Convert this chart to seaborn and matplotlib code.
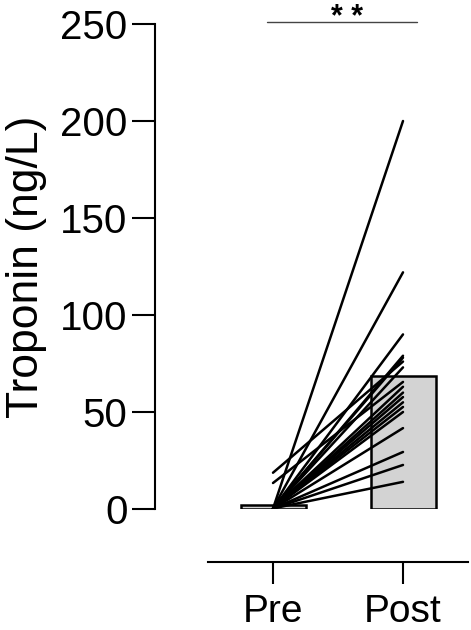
import matplotlib
matplotlib.use("Agg")
import matplotlib.pyplot as plt
import seaborn as sns
import numpy as np
import pandas as pd

# ---- data ----
timepoints = ["Pre", "Post"]
pre_values = [0.2, 0.3, 0.1, 0.2, 0.3, 0.2, 18.7, 13.4, 0.3, 0.1, 0.2, 0.2, 0.3, 0.3, 0.1, 0.2, 0.2, 0.3]
post_values = [200, 122, 90, 79, 78, 73, 76, 65.5, 63, 60, 57.7, 55, 52.6, 50, 41.7, 29.4, 22.7, 14]
y_ticks = [0, 50, 100, 150, 200, 250]
y_label = "Troponin (ng/L)"
sig_text = "* *"

n = len(pre_values)
subjects = list(range(n))
long_df = pd.DataFrame({
    "subject": subjects * 2,
    "time": ["Pre"] * n + ["Post"] * n,
    "value": pre_values + post_values,
})
long_df["pos"] = long_df["time"].map({t: i for i, t in enumerate(timepoints)})

sns.set_style("ticks", {"axes.edgecolor": "black", "xtick.color": "black",
                        "ytick.color": "black", "text.color": "black",
                        "axes.labelcolor": "black"})
plt.rcParams["font.family"] = ["Liberation Sans", "DejaVu Sans"]

fig = plt.figure(figsize=(4.71, 6.30), dpi=100)
ax = fig.add_axes([208 / 471, 1 - 509 / 630, 260 / 471, (509 - 24) / 630])

sns.barplot(data=long_df, x="time", y="value", order=timepoints, estimator="mean",
            errorbar=None, color="#d3d3d3", edgecolor="black", linewidth=1.8,
            width=0.5, saturation=1, ax=ax, zorder=1)

sns.lineplot(data=long_df, x="pos", y="value", units="subject", estimator=None,
             color="black", linewidth=1.8, ax=ax, legend=False, zorder=3)

ax.set_xlim(-0.5, 1.5)
ax.set_ylim(0, 250)
ax.set_yticks(y_ticks)
ax.set_xticks(range(len(timepoints)))
ax.set_xticklabels(timepoints)
ax.set_xlabel("")
ax.set_ylabel(y_label, fontsize=32, labelpad=9)

sns.despine(ax=ax, offset=38)
for s in ["left", "bottom"]:
    ax.spines[s].set_linewidth(1.5)
ax.tick_params(axis="y", labelsize=29, length=16.5, width=1.5, pad=3.5)
ax.tick_params(axis="x", labelsize=28, length=16, width=1.5, pad=7)

# significance bar
ax.plot([-0.045, 1.105], [251, 251], color="#444444", linewidth=1.0, clip_on=False)
ax.text(0.57, 249, sig_text, ha="center", va="baseline", fontsize=22,
        fontweight="bold", clip_on=False)

fig.savefig("out.png", dpi=100)
